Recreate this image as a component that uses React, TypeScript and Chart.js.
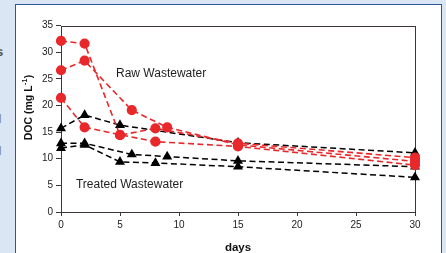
import React, { useEffect, useRef } from "react";
import { Chart, registerables } from "chart.js";

Chart.register(...registerables);

// ---- Data (days, DOC mg/L) ----
const rawDaysA = [0, 2, 5, 8, 15, 30];
const rawValuesA = [32.1, 31.6, 14.4, 15.7, 12.9, 10.2];
const rawDaysB = [0, 2, 6, 9, 15, 30];
const rawValuesB = [26.6, 28.4, 19.1, 15.9, 12.6, 9.5];
const rawDaysC = [0, 2, 5, 8, 15, 30];
const rawValuesC = [21.4, 15.9, 14.5, 13.2, 12.3, 8.8];

const treatedDaysA = [0, 2, 5, 15, 30];
const treatedValuesA = [15.7, 18.2, 16.3, 13.0, 11.1];
const treatedDaysB = [0, 2, 6, 9, 15, 30];
const treatedValuesB = [12.9, 12.9, 10.8, 10.4, 9.6, 8.5];
const treatedDaysC = [0, 2, 5, 8, 15, 30];
const treatedValuesC = [12.0, 12.6, 9.4, 9.2, 8.5, 6.5];

const xTickValues = [0, 5, 10, 15, 20, 25, 30];
const yTickValues = [0, 5, 10, 15, 20, 25, 30, 35];

const rawLabel = "Raw Wastewater";
const treatedLabel = "Treated Wastewater";
const xTitle = "days";
const yTitleMain = "DOC (mg L";
const yTitleSup = "-1";
const yTitleEnd = ")";

const RED = "#e8282b";
const BLACK = "#000000";
const FONT = "'Liberation Sans', Arial, Helvetica, sans-serif";

const toPoints = (days: number[], vals: number[]) =>
  days.map((d, i) => ({ x: d, y: vals[i] }));

const rawStyle = {
  borderColor: RED,
  backgroundColor: RED,
  pointBackgroundColor: RED,
  pointBorderColor: RED,
  pointStyle: "circle" as const,
  pointRadius: 4.3,
  borderWidth: 1.6,
  borderDash: [6, 3.5],
  clip: false as const,
};
const treatedStyle = {
  borderColor: BLACK,
  backgroundColor: BLACK,
  pointBackgroundColor: BLACK,
  pointBorderColor: BLACK,
  pointStyle: "triangle" as const,
  pointRadius: 4.3,
  borderWidth: 1.5,
  borderDash: [6, 3.5],
  clip: false as const,
};

const overlayPlugin = {
  id: "overlay",
  beforeDatasetsDraw(chart: any) {
    const { ctx, chartArea: a } = chart;
    ctx.save();
    ctx.strokeStyle = "#3e3636";
    ctx.lineWidth = 1;
    const l = Math.round(a.left) + 0.5;
    const t = Math.round(a.top) + 0.5;
    const r = Math.round(a.right) + 0.5;
    const b = Math.round(a.bottom) + 0.5;
    ctx.strokeRect(l, t, r - l, b - t);
    ctx.restore();
  },
  afterDraw(chart: any) {
    const { ctx, chartArea: a } = chart;
    const xs = chart.scales.x;
    const ys = chart.scales.y;
    ctx.save();
    ctx.fillStyle = "#1e1e1e";
    ctx.textBaseline = "alphabetic";
    ctx.textAlign = "left";
    ctx.font = `12px ${FONT}`;
    ctx.fillText(rawLabel, xs.getPixelForValue(4.66), ys.getPixelForValue(25.3));
    ctx.fillText(treatedLabel, xs.getPixelForValue(1.27), ys.getPixelForValue(4.45));

    // x title
    ctx.font = `bold 11.5px ${FONT}`;
    ctx.textAlign = "center";
    ctx.fillStyle = "#111";
    ctx.fillText(xTitle, (a.left + a.right) / 2, 251);

    // y title rotated with superscript
    ctx.translate(31.5, 108);
    ctx.rotate(-Math.PI / 2);
    ctx.textAlign = "left";
    const mainFont = `bold 10.5px ${FONT}`;
    const supFont = `bold 7px ${FONT}`;
    ctx.font = mainFont;
    const w1 = ctx.measureText(yTitleMain).width;
    const w3 = ctx.measureText(yTitleEnd).width;
    ctx.font = supFont;
    const w2 = ctx.measureText(yTitleSup).width;
    const start = -(w1 + w2 + w3) / 2;
    ctx.font = mainFont;
    ctx.fillText(yTitleMain, start, 0);
    ctx.font = supFont;
    ctx.fillText(yTitleSup, start + w1 + 0.5, -4.5);
    ctx.font = mainFont;
    ctx.fillText(yTitleEnd, start + w1 + w2 + 1, 0);
    ctx.restore();
  },
};

export default function App() {
  const canvasRef = useRef<HTMLCanvasElement | null>(null);

  useEffect(() => {
    if (!canvasRef.current) return;
    const chart = new Chart(canvasRef.current, {
      type: "line",
      data: {
        datasets: [
          { ...rawStyle, label: "Raw A", data: toPoints(rawDaysA, rawValuesA) },
          { ...rawStyle, label: "Raw B", data: toPoints(rawDaysB, rawValuesB) },
          { ...rawStyle, label: "Raw C", data: toPoints(rawDaysC, rawValuesC) },
          { ...treatedStyle, label: "Treated A", data: toPoints(treatedDaysA, treatedValuesA) },
          { ...treatedStyle, label: "Treated B", data: toPoints(treatedDaysB, treatedValuesB) },
          { ...treatedStyle, label: "Treated C", data: toPoints(treatedDaysC, treatedValuesC) },
        ],
      },
      options: {
        responsive: false,
        animation: false,
        events: [],
        layout: { padding: { left: 0, top: 25.5, right: 31, bottom: 21 } },
        plugins: {
          legend: { display: false },
          tooltip: { enabled: false },
          title: { display: false },
        },
        scales: {
          x: {
            type: "linear",
            min: 0,
            max: 30,
            afterBuildTicks: (s: any) => {
              s.ticks = xTickValues.map((v) => ({ value: v }));
            },
            afterFit: (s: any) => {
              s.height = 20;
            },
            border: { display: false },
            grid: {
              drawOnChartArea: false,
              drawTicks: true,
              tickLength: 4,
              color: "#3e3636",
            },
            ticks: {
              padding: 3,
              color: "#222",
              font: { family: FONT, size: 10 },
              maxRotation: 0,
            },
          },
          y: {
            type: "linear",
            min: 0,
            max: 35,
            afterBuildTicks: (s: any) => {
              s.ticks = yTickValues.map((v) => ({ value: v }));
            },
            afterFit: (s: any) => {
              s.width = 61;
            },
            border: { display: false },
            grid: {
              drawOnChartArea: false,
              drawTicks: true,
              tickLength: 5,
              color: "#3e3636",
            },
            ticks: {
              padding: 3,
              color: "#222",
              font: { family: FONT, size: 10 },
            },
          },
        },
      },
      plugins: [overlayPlugin],
    });
    return () => chart.destroy();
  }, []);

  const fragStyle: React.CSSProperties = {
    position: "absolute",
    color: "#555",
    fontFamily: FONT,
    fontWeight: "bold",
    fontSize: 13,
    lineHeight: "13px",
  };

  return (
    <div
      style={{
        position: "fixed",
        left: 0,
        top: 0,
        width: 446,
        height: 253,
        overflow: "hidden",
        background: "#dae6f3",
      }}
    >
      <span style={{ ...fragStyle, left: -4, top: 45 }}>s</span>
      <span style={{ ...fragStyle, left: -2, top: 112, color: "#888" }}>l</span>
      <span style={{ ...fragStyle, left: -2, top: 144, color: "#888" }}>l</span>
      <div
        style={{
          position: "absolute",
          left: 15,
          top: 4,
          width: 427,
          height: 270,
          boxSizing: "border-box",
          border: "1.5px solid #2a5797",
          background: "#ffffff",
        }}
      />
      <canvas
        ref={canvasRef}
        width={446}
        height={253}
        style={{ position: "absolute", left: 0, top: 0, width: 446, height: 253 }}
      />
    </div>
  );
}
